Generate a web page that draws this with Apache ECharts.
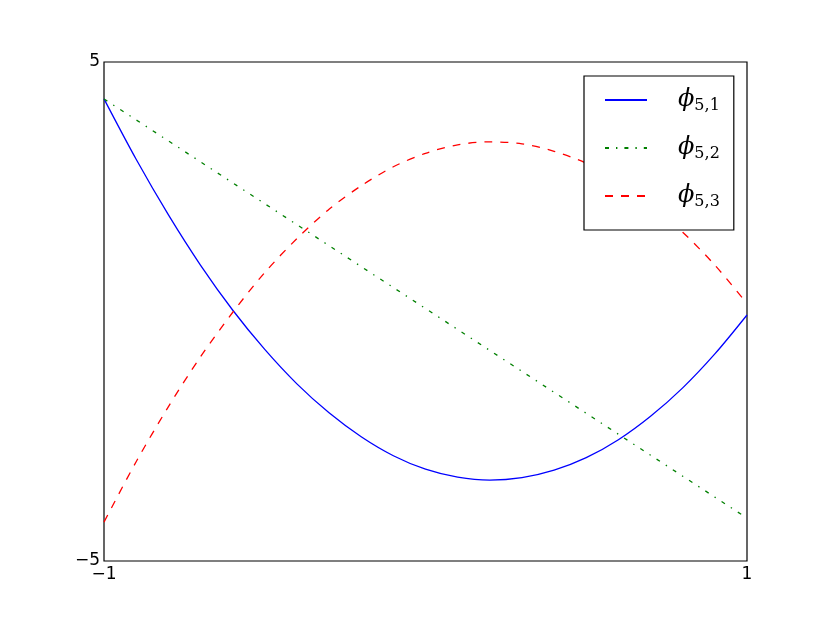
<!DOCTYPE html>
<html>
<head>
<meta charset="utf-8">
<script src="https://cdn.jsdelivr.net/npm/echarts@6/dist/echarts.min.js"></script>
<style>
  html, body { margin: 0; padding: 0; background: #fff; }
  #chart { width: 830px; height: 623px; }
</style>
</head>
<body>
<div id="chart"></div>
<script>
// sample points
var xs = [-1, -0.9, -0.8, -0.7, -0.6, -0.5, -0.4, -0.3, -0.2, -0.1, 0,
          0.1, 0.2, 0.3, 0.4, 0.5, 0.6, 0.7, 0.8, 0.9, 1];
var phi51 = [4.26, 3.05, 1.94, 0.93, 0.03, -0.76, -1.45, -2.03, -2.51, -2.89, -3.16,
             -3.32, -3.38, -3.33, -3.18, -2.93, -2.57, -2.10, -1.53, -0.85, -0.07];
var phi52 = [4.26, 3.84, 3.42, 3.00, 2.58, 2.16, 1.74, 1.32, 0.90, 0.48, 0.06,
             -0.36, -0.78, -1.20, -1.62, -2.04, -2.46, -2.88, -3.30, -3.72, -4.14];
var phi53 = [-4.22, -3.01, -1.91, -0.91, -0.02, 0.78, 1.46, 2.05, 2.52, 2.90, 3.17,
             3.34, 3.40, 3.36, 3.21, 2.97, 2.61, 2.16, 1.59, 0.93, 0.16];
var names = ['phi51', 'phi52', 'phi53'];
var subs = {phi51: '5,1', phi52: '5,2', phi53: '5,3'};

function pairs(ys) {
    return xs.map(function (x, i) { return [x, ys[i]]; });
}
function minus(v) {
    return String(v).replace('-', '\u2212');
}

var chart = echarts.init(document.getElementById('chart'));

var option = {
    backgroundColor: '#fff',
    animation: false,
    grid: {
        left: 104, right: 83, top: 62, bottom: 62,
        show: true,
        borderColor: '#000',
        borderWidth: 1.2
    },
    xAxis: {
        type: 'value',
        min: -1, max: 1, interval: 2,
        axisLine: {show: false},
        axisTick: {show: false},
        splitLine: {show: false},
        axisLabel: {
            margin: 5,
            color: '#000',
            fontFamily: 'DejaVu Sans',
            fontSize: 17,
            formatter: minus
        }
    },
    yAxis: {
        type: 'value',
        min: -5, max: 5, interval: 10,
        axisLine: {show: false},
        axisTick: {show: false},
        splitLine: {show: false},
        axisLabel: {
            margin: 4,
            color: '#000',
            fontFamily: 'DejaVu Sans',
            fontSize: 17,
            formatter: minus
        }
    },
    legend: {
        orient: 'vertical',
        left: 584, top: 76,
        width: 115,
        padding: [12, 14, 20, 20],
        itemGap: 22,
        itemWidth: 42,
        itemHeight: 26,
        backgroundColor: '#fff',
        borderColor: '#000',
        borderWidth: 1.2,
        borderRadius: 0,
        itemStyle: {opacity: 0},
        data: names,
        formatter: function (name) {
            return '{phi|\u03d5}{sub|' + subs[name] + '}';
        },
        textStyle: {
            rich: {
                phi: {
                    fontFamily: 'DejaVu Serif',
                    fontStyle: 'italic',
                    fontSize: 24,
                    color: '#000',
                    padding: [0, 0, 0, 26]
                },
                sub: {
                    fontFamily: 'DejaVu Serif',
                    fontSize: 16,
                    color: '#000',
                    padding: [12, 0, 0, 0]
                }
            }
        }
    },
    series: [{
        name: 'phi51',
        type: 'line',
        data: pairs(phi51),
        smooth: 0.3,
        symbol: 'none',
        lineStyle: {color: '#0000ff', width: 1.3}
    }, {
        name: 'phi52',
        type: 'line',
        data: pairs(phi52),
        symbol: 'none',
        lineStyle: {color: '#008000', width: 1.3, type: [4, 7, 1.4, 7]}
    }, {
        name: 'phi53',
        type: 'line',
        data: pairs(phi53),
        smooth: 0.3,
        symbol: 'none',
        lineStyle: {color: '#ff0000', width: 1.3, type: [8, 8]}
    }]
};
option.series.forEach(function (s) {
    s.itemStyle = {color: s.lineStyle.color};
});

chart.setOption(option);
</script>
</body>
</html>
